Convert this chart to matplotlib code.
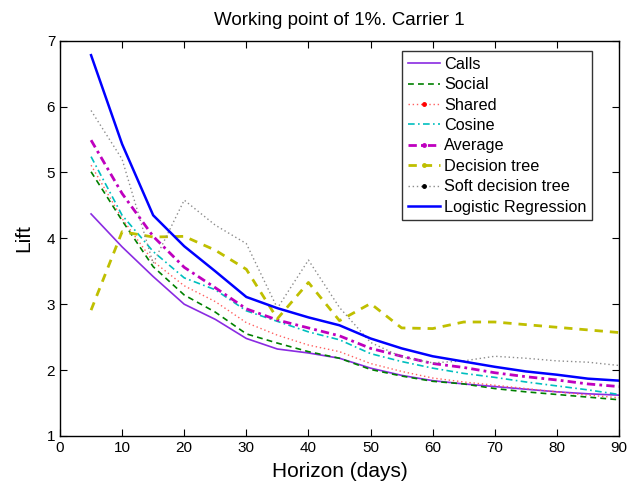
import matplotlib
matplotlib.use("Agg")
import matplotlib.pyplot as plt
from matplotlib.lines import Line2D
import numpy as np

plt.rcParams["font.family"] = ["Liberation Sans", "DejaVu Sans"]

horizon = [5, 10, 15, 20, 25, 30, 35, 40, 45, 50, 55, 60, 65, 70, 75, 80, 85, 90]

calls = [4.37, 3.87, 3.42, 3.00, 2.77, 2.48, 2.32, 2.26, 2.18, 2.03,
         1.92, 1.84, 1.79, 1.75, 1.71, 1.67, 1.64, 1.62]
social = [5.01, 4.27, 3.57, 3.14, 2.88, 2.55, 2.41, 2.28, 2.18, 2.01,
          1.91, 1.83, 1.79, 1.72, 1.67, 1.63, 1.59, 1.55]
shared = [5.11, 4.30, 3.65, 3.28, 3.04, 2.72, 2.53, 2.38, 2.28, 2.10,
          1.98, 1.88, 1.82, 1.77, 1.72, 1.67, 1.62, 1.58]
cosine = [5.24, 4.35, 3.80, 3.40, 3.22, 2.90, 2.74, 2.58, 2.46, 2.25,
          2.13, 2.03, 1.95, 1.89, 1.82, 1.76, 1.70, 1.63]
average = [5.49, 4.68, 4.03, 3.56, 3.25, 2.93, 2.76, 2.64, 2.52, 2.33,
           2.21, 2.10, 2.04, 1.96, 1.90, 1.85, 1.79, 1.75]
decision_tree = [2.91, 4.10, 4.02, 4.03, 3.82, 3.53, 2.78, 3.33, 2.75, 3.01,
                 2.64, 2.63, 2.73, 2.73, 2.69, 2.65, 2.61, 2.57]
soft_tree = [5.94, 5.20, 3.62, 4.58, 4.20, 3.92, 2.94, 3.67, 2.95, 2.42,
             2.20, 2.11, 2.14, 2.21, 2.18, 2.14, 2.12, 2.07]
logistic = [6.78, 5.43, 4.35, 3.88, 3.50, 3.11, 2.94, 2.80, 2.68, 2.48,
            2.33, 2.21, 2.13, 2.05, 1.98, 1.93, 1.87, 1.84]

names = ["Calls", "Social", "Shared", "Cosine", "Average",
         "Decision tree", "Soft decision tree", "Logistic Regression"]

# (color, linestyle, linewidth, legend marker, marker color)
styles = [
    ("#8a2be2", "-", 1.2, None, None),
    ("#008000", (0, (3.5, 2.5)), 1.2, None, None),
    ("#ff6060", (0, (1, 2)), 1.0, ".", "#ff0000"),
    ("#00bfbf", (0, (4, 2, 1, 2)), 1.2, None, None),
    ("#bf00bf", (0, (3, 1.5, 1, 1.5)), 2.0, ".", "#bf00bf"),
    ("#bfbf00", (0, (3, 2.5)), 2.0, ".", "#bfbf00"),
    ("#8c8c8c", (0, (1, 2)), 1.0, ".", "#000000"),
    ("#0000ff", "-", 1.8, None, None),
]
series = [calls, social, shared, cosine, average, decision_tree, soft_tree,
          logistic]

fig = plt.figure(figsize=(6.27, 4.96), dpi=100)
ax = fig.add_axes([0.0957, 0.121, 0.8915, 0.797])

handles = []
for values, name, (color, ls, lw, mk, mkc) in zip(series, names, styles):
    ax.plot(horizon, values, color=color, linestyle=ls, linewidth=lw)
    handles.append(Line2D([0], [0], color=color, linestyle=ls, linewidth=lw,
                          marker=mk, markersize=5, markerfacecolor=mkc,
                          markeredgecolor=mkc))

ax.set_xlim(0, 90)
ax.set_ylim(1, 7)
ax.set_xticks(np.arange(0, 91, 10))
ax.set_yticks(np.arange(1, 8, 1))
ax.tick_params(direction="in", top=True, right=True, length=5,
               width=0.8, labelsize=11)
for spine in ax.spines.values():
    spine.set_linewidth(1.0)

ax.set_title("Working point of 1%. Carrier 1", fontsize=13.5, pad=11)
ax.set_xlabel("Horizon (days)", fontsize=15, labelpad=5)
ax.set_ylabel("Lift", fontsize=15, labelpad=10)

leg = ax.legend(handles, names, loc="upper right",
                bbox_to_anchor=(0.952, 0.973), fontsize=11.7,
                frameon=True, fancybox=False, edgecolor="black",
                handlelength=2.0, handletextpad=0.25, labelspacing=0.33,
                borderpad=0.35, borderaxespad=0.0)
leg.get_frame().set_linewidth(1.0)

plt.savefig("out.png", dpi=100)
